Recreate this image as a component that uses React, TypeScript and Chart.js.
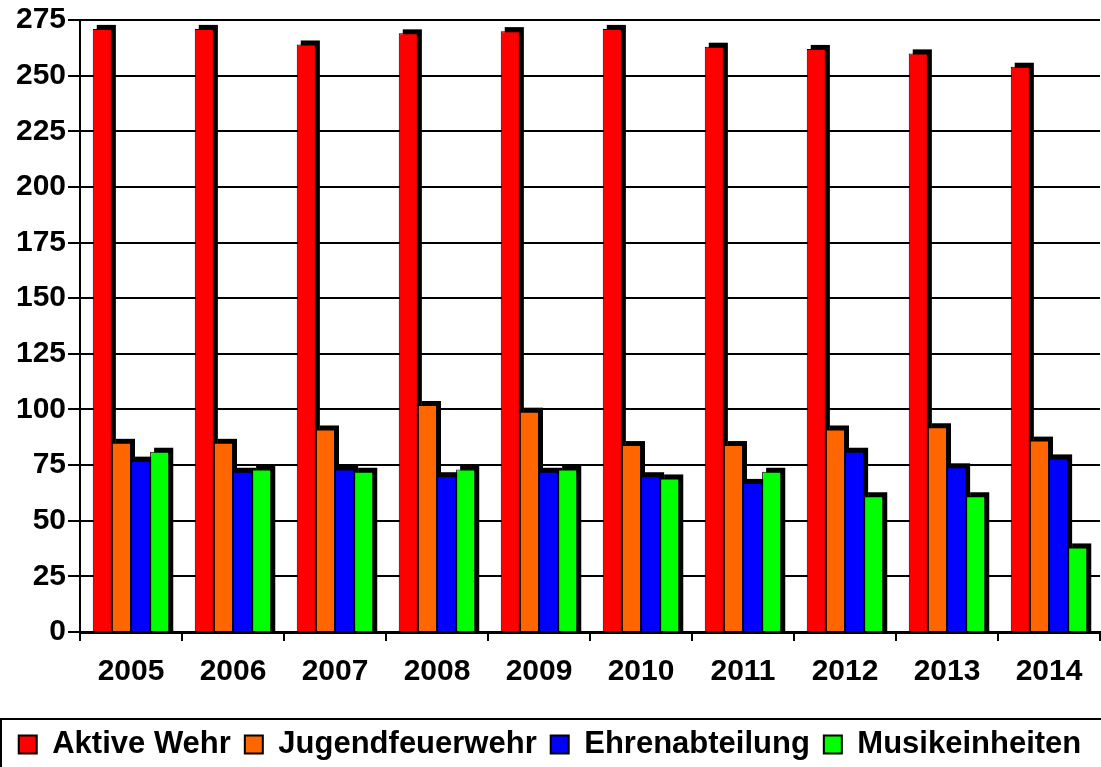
import React, { useEffect, useRef } from "react";
import { Chart, registerables } from "chart.js";

Chart.register(...registerables);

const years = ["2005", "2006", "2007", "2008", "2009", "2010", "2011", "2012", "2013", "2014"];
const seriesNames = ["Aktive Wehr", "Jugendfeuerwehr", "Ehrenabteilung", "Musikeinheiten"];
const aktiveWehr = [271, 271, 264, 269, 270, 271, 263, 262, 260, 254];
const jugendfeuerwehr = [85, 85, 91, 102, 99, 84, 84, 91, 92, 86];
const ehrenabteilung = [77, 72, 73, 70, 72, 70, 67, 81, 74, 78];
const musikeinheiten = [81, 73, 72, 73, 73, 69, 72, 61, 61, 38];
const seriesColors = ["#ff0000", "#ff6600", "#0000ff", "#00ff00"];
const yMin = 0;
const yMax = 275;
const yStep = 25;

const FONT = "'Liberation Sans', Arial, Helvetica, sans-serif";

const shadowPlugin = {
  id: "barShadow",
  beforeDatasetsDraw(chart: any) {
    const ctx = chart.ctx;
    ctx.save();
    ctx.fillStyle = "#000";
    const d = 4;
    chart.data.datasets.forEach((_ds: any, i: number) => {
      const meta = chart.getDatasetMeta(i);
      meta.data.forEach((bar: any) => {
        const { x, y, base, width } = bar.getProps(["x", "y", "base", "width"], true);
        ctx.fillRect(x - width / 2 + d, y - d, width, base - y + d);
      });
    });
    ctx.restore();
  },
};

const legendBorderPlugin = {
  id: "legendBorder",
  afterDraw(chart: any) {
    const l = chart.legend;
    if (!l) return;
    const ctx = chart.ctx;
    ctx.save();
    ctx.strokeStyle = "#000";
    ctx.lineWidth = 2;
    ctx.strokeRect(1, l.top + 4, chart.width + 10, 200);
    ctx.restore();
  },
};

export default function App() {
  const ref = useRef<HTMLCanvasElement | null>(null);
  useEffect(() => {
    if (!ref.current) return;
    const data = [aktiveWehr, jugendfeuerwehr, ehrenabteilung, musikeinheiten];
    const chart = new Chart(ref.current, {
      type: "bar",
      data: {
        labels: years,
        datasets: seriesNames.map((name, i) => ({
          label: name,
          data: data[i],
          backgroundColor: seriesColors[i],
          borderColor: "#000",
          borderWidth: 1,
          barPercentage: 1,
          categoryPercentage: 0.75,
        })),
      },
      options: {
        animation: false,
        responsive: false,
        devicePixelRatio: 1,
        layout: { padding: { top: 18, left: 0, right: 1, bottom: -3 } },
        plugins: {
          legend: {
            position: "bottom",
            labels: {
              color: "#000",
              font: { family: FONT, size: 31, weight: "bold" },
              boxWidth: 18,
              boxHeight: 18,
              padding: 14,
              generateLabels: (chart: any) => {
                const items = Chart.defaults.plugins.legend.labels.generateLabels(chart);
                return items.map((it: any) => ({ ...it, lineWidth: 2, strokeStyle: "#000" }));
              },
            },
          },
          tooltip: { enabled: false },
        },
        scales: {
          x: {
            grid: { display: true, drawOnChartArea: false, offset: true, color: "#000", lineWidth: 2, tickLength: 9 },
            border: { display: true, color: "#000", width: 3 },
            ticks: { color: "#000", font: { family: FONT, size: 30, weight: "bold" }, padding: 13, maxRotation: 0 },
            afterFit: (scale: any) => {
              scale.height = 83;
            },
          },
          y: {
            min: yMin,
            max: yMax,
            ticks: { stepSize: yStep, color: "#000", font: { family: FONT, size: 30, weight: "bold" }, padding: 2 },
            grid: { color: "#000", lineWidth: 2, tickLength: 12 },
            border: { display: true, color: "#000", width: 2 },
            afterFit: (scale: any) => {
              scale.width = 80;
            },
          },
        },
      },
      plugins: [shadowPlugin, legendBorderPlugin],
    });
    return () => chart.destroy();
  }, []);
  return (
    <div style={{ position: "absolute", left: 0, top: 0, width: 1101, height: 767, background: "#fff" }}>
      <canvas ref={ref} width={1101} height={767} style={{ display: "block" }} />
    </div>
  );
}
